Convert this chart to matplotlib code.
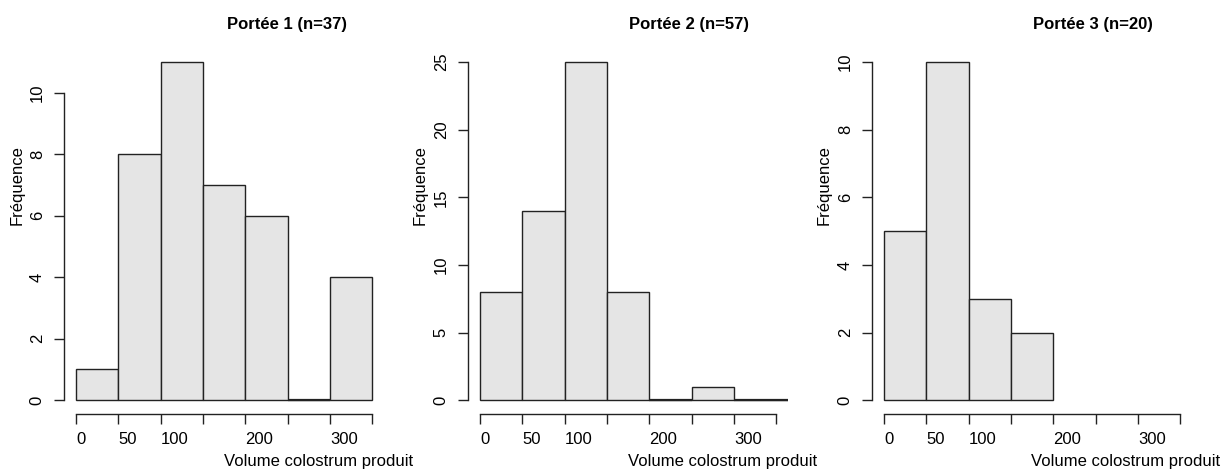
import matplotlib
matplotlib.use("Agg")
import matplotlib.pyplot as plt
import numpy as np

plt.rcParams['font.family'] = ['Liberation Sans', 'DejaVu Sans']

# Histogram counts per litter (bins of 50 units of colostrum volume)
titles = ["Portée 1 (n=37)", "Portée 2 (n=57)", "Portée 3 (n=20)"]
edges_1 = [0, 50, 100, 150, 200, 250, 300, 350]
counts_1 = [1, 8, 11, 7, 6, 0, 4]
edges_2 = [0, 50, 100, 150, 200, 250, 300, 365]
counts_2 = [8, 14, 25, 8, 0, 1, 0]
edges_3 = [0, 50, 100, 150, 200]
counts_3 = [5, 10, 3, 2]

x_ticks = [0, 50, 100, 150, 200, 250, 300, 350]
x_labels = ["0", "50", "100", "", "200", "", "300", ""]
y_ticks_1 = [0, 2, 4, 6, 8, 10]
y_ticks_2 = [0, 5, 10, 15, 20, 25]
y_ticks_3 = [0, 2, 4, 6, 8, 10]

x_title = "Volume colostrum produit"
y_title = "Fréquence"

W, H = 1231, 471
fig = plt.figure(figsize=(W / 100, H / 100), dpi=100)

# plot-region left edges (pixels) for each panel
lefts = [64.3, 468.2, 872.2]
ppu = 0.8462  # pixels per x unit
xlim = (-14, 364)
top_px, bot_px = 48.5, 413.7

panels = [
    (edges_1, counts_1, y_ticks_1, 11),
    (edges_2, counts_2, y_ticks_2, 25),
    (edges_3, counts_3, y_ticks_3, 10),
]
title_cx = [287, 689.3, 1093.3]
xlab_right = [413, 817.3, 1220]
ylab_x = [17, 420, 824]
edge_col = '#222222'

for i, (edges, counts, yt, ymax) in enumerate(panels):
    left = lefts[i]
    width = (xlim[1] - xlim[0]) * ppu
    ax = fig.add_axes([left / W, 1 - bot_px / H, width / W, (bot_px - top_px) / H])
    e = np.array(edges, dtype=float)
    c = np.array(counts, dtype=float)
    ax.bar(e[:-1], c, width=np.diff(e), align='edge',
           color='#E5E5E5', edgecolor=edge_col, linewidth=1.0, zorder=2)
    # empty bins collapse to a flat line on the baseline
    empty = c == 0
    if empty.any():
        ax.hlines(np.zeros(empty.sum()), e[:-1][empty], e[1:][empty],
                  colors=edge_col, linewidth=1.6, zorder=3)
    ax.set_xlim(*xlim)
    pad = 0.04 * ymax
    ax.set_ylim(-pad, ymax + pad)
    for s in ['top', 'right']:
        ax.spines[s].set_visible(False)
    ax.spines['bottom'].set_bounds(x_ticks[0], x_ticks[-1])
    ax.spines['left'].set_bounds(yt[0], yt[-1])
    for s in ['bottom', 'left']:
        ax.spines[s].set_linewidth(1.0)
        ax.spines[s].set_color(edge_col)
    ax.set_xticks(x_ticks)
    ax.set_xticklabels(x_labels, ha='left')
    ax.set_yticks(yt)
    ax.set_yticklabels([str(v) for v in yt], rotation=90, va='center')
    ax.tick_params(axis='both', length=7, width=1.0, color=edge_col,
                   labelsize=12, pad=7)
    ax.tick_params(axis='x', pad=6)
    ax.patch.set_visible(False)
    fig.text(title_cx[i] / W, 1 - 24 / H, titles[i], ha='center', va='center',
             fontsize=12, fontweight='bold')
    fig.text(xlab_right[i] / W, 1 - 461.5 / H, x_title, ha='right', va='center',
             fontsize=12)
    fig.text(ylab_x[i] / W, 1 - 185 / H, y_title, ha='center', va='center',
             rotation=90, fontsize=12)

fig.savefig("out.png", dpi=100)
